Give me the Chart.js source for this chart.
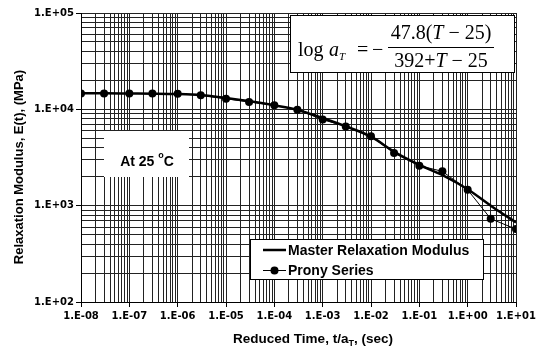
<!DOCTYPE html>
<html lang="en">
<head>
    <meta charset="UTF-8">
    <title>Relaxation Modulus</title>
    <script src="https://cdn.jsdelivr.net/npm/chart.js"></script>
    <style>
        body { margin: 0; background: #fff; }
    </style>
</head>
<body>
    <canvas id="modulusChart" width="543" height="348"></canvas>
    <script>
        // master curve, read at half-decade steps (sec, MPa)
        const masterTime = [1e-8, 3.16e-8, 1e-7, 3.16e-7, 1e-6, 3.16e-6, 1e-5, 3.16e-5, 1e-4, 3.16e-4,
                            1e-3, 3.16e-3, 1e-2, 3.16e-2, 1e-1, 3.16e-1, 1e0, 3.16e0, 1e1];
        const masterModulus = [14650, 14650, 14600, 14550, 14400, 14000, 13100, 12100, 11000, 9800,
                               8100, 6600, 5200, 3580, 2650, 2050, 1480, 980, 670];

        // prony series fit points
        const pronyTime = [1e-8, 3e-8, 1e-7, 3e-7, 1e-6, 3e-6, 1e-5, 3e-5, 1e-4, 3e-4,
                           1e-3, 3e-3, 1e-2, 3e-2, 1e-1, 3e-1, 1e0, 3e0, 1e1];
        const pronyModulus = [14600, 14600, 14600, 14600, 14500, 13970, 12900, 11940, 11020, 9930,
                              7820, 6650, 5240, 3520, 2600, 2270, 1460, 731, 571];

        const xDecades = [-8, -7, -6, -5, -4, -3, -2, -1, 0, 1];
        const yDecades = [2, 3, 4, 5];

        const FONT = '"Liberation Sans", Arial, sans-serif';
        const SERIF = '"Liberation Serif", "Times New Roman", serif';

        function toPoints(xs, ys) {
            return xs.map((x, i) => ({ x: x, y: ys[i] }));
        }

        // 1.E-08 style labels
        function expLabel(v) {
            const e = Math.round(Math.log10(v));
            const s = e < 0 ? '-' : '+';
            return '1.E' + s + String(Math.abs(e)).padStart(2, '0');
        }

        // full 1..9 log grid, majors at the decades
        function logTicks(decades) {
            const out = [];
            for (let i = 0; i < decades.length; i++) {
                const e = decades[i];
                out.push({ value: Math.pow(10, e), major: true });
                if (i < decades.length - 1) {
                    for (let m = 2; m <= 9; m++) out.push({ value: m * Math.pow(10, e), major: false });
                }
            }
            return out;
        }

        // draws [text, font, dy] pieces centred on cx
        function drawRuns(ctx, runs, cx, y) {
            let total = 0;
            runs.forEach(r => { ctx.font = r[1]; total += ctx.measureText(r[0]).width; });
            let x = cx - total / 2;
            ctx.textAlign = 'left';
            runs.forEach(r => {
                ctx.font = r[1];
                ctx.fillText(r[0], x, y + (r[2] || 0));
                x += ctx.measureText(r[0]).width;
            });
        }

        const annotations = {
            id: 'annotations',
            afterDatasetsDraw(chart) {
                const ctx = chart.ctx;
                ctx.save();

                // temperature box
                ctx.fillStyle = '#fff';
                ctx.fillRect(104, 131, 85, 46);
                ctx.fillStyle = '#000';
                ctx.textBaseline = 'alphabetic';
                const b14 = 'bold 14px ' + FONT;
                drawRuns(ctx, [['At 25 ', b14], ['o', 'bold 9px ' + FONT, -8], ['C', b14]], 147, 166);

                // shift factor equation
                ctx.fillStyle = '#fff';
                ctx.fillRect(290, 15, 224, 57);
                ctx.strokeStyle = '#000';
                ctx.lineWidth = 1;
                ctx.strokeRect(290.5, 15.5, 224, 57);
                ctx.fillStyle = '#000';
                const r20 = '20px ' + SERIF;
                const i20 = 'italic 20px ' + SERIF;
                ctx.textAlign = 'left';
                ctx.font = r20;
                ctx.fillText('log', 298, 56);
                ctx.font = i20;
                ctx.fillText('a', 329, 56);
                ctx.font = 'italic 11px ' + SERIF;
                ctx.fillText('T', 339, 60);
                ctx.font = r20;
                ctx.fillText('=', 357, 56);
                ctx.fillText('\u2212', 372, 56);
                ctx.beginPath();
                ctx.moveTo(388, 47.5);
                ctx.lineTo(494, 47.5);
                ctx.stroke();
                drawRuns(ctx, [['47.8(', r20], ['T', i20], [' \u2212 25)', r20]], 441, 39);
                drawRuns(ctx, [['392+', r20], ['T', i20], [' \u2212 25', r20]], 441, 67);

                // legend
                const lx = 250, ly = 239;
                ctx.fillStyle = '#fff';
                ctx.fillRect(lx, ly, 233, 40);
                ctx.strokeRect(lx + 0.5, ly + 0.5, 233, 40);
                ctx.textAlign = 'left';
                ctx.textBaseline = 'middle';
                ctx.font = b14;
                ctx.fillStyle = '#000';
                const ds = chart.data.datasets;
                ctx.lineWidth = ds[0].borderWidth;
                ctx.beginPath();
                ctx.moveTo(lx + 13, ly + 11);
                ctx.lineTo(lx + 36, ly + 11);
                ctx.stroke();
                ctx.fillText(ds[0].label, lx + 38, ly + 12);
                ctx.lineWidth = ds[1].borderWidth;
                ctx.beginPath();
                ctx.moveTo(lx + 13, ly + 31.5);
                ctx.lineTo(lx + 36, ly + 31.5);
                ctx.stroke();
                ctx.beginPath();
                ctx.arc(lx + 24.5, ly + 31.5, ds[1].pointRadius, 0, Math.PI * 2);
                ctx.fill();
                ctx.fillText(ds[1].label, lx + 38, ly + 32);

                // axis titles
                ctx.font = 'bold 13px ' + FONT;
                ctx.textAlign = 'center';
                ctx.save();
                ctx.translate(19, 167);
                ctx.rotate(-Math.PI / 2);
                ctx.fillText('Relaxation Modulus, E(t), (MPa)', 0, 0);
                ctx.restore();

                ctx.textBaseline = 'alphabetic';
                const b13 = 'bold 13.5px ' + FONT;
                drawRuns(ctx, [['Reduced Time, t/a', b13], ['T', 'bold 9px ' + FONT, 3], [', (sec)', b13]], 313, 343);

                ctx.restore();
            }
        };

        const gridLine = {
            color: '#222',
            lineWidth: 1,
            tickLength: 5,
            tickColor: c => (c.tick && c.tick.major ? '#000' : 'rgba(0,0,0,0)')
        };

        const tickFont = { family: '"DejaVu Sans"', size: 10, weight: 'bold' };

        const ctx = document.getElementById('modulusChart').getContext('2d');
        new Chart(ctx, {
            type: 'line',
            data: {
                datasets: [{
                    label: 'Master Relaxation Modulus',
                    data: toPoints(masterTime, masterModulus),
                    borderColor: '#000',
                    borderWidth: 2.5,
                    pointRadius: 0,
                    cubicInterpolationMode: 'monotone'
                }, {
                    label: 'Prony Series',
                    data: toPoints(pronyTime, pronyModulus),
                    borderColor: '#000',
                    backgroundColor: '#000',
                    borderWidth: 1,
                    pointRadius: 4,
                    pointBorderWidth: 0
                }]
            },
            options: {
                responsive: false,
                animation: false,
                layout: { padding: { top: 13, right: 27, left: 0, bottom: 0 } },
                plugins: {
                    legend: { display: false },
                    tooltip: { enabled: false }
                },
                scales: {
                    x: {
                        type: 'logarithmic',
                        min: 1e-8,
                        max: 10,
                        afterBuildTicks: s => { s.ticks = logTicks(xDecades); },
                        afterFit: s => { s.height = 46; },
                        grid: gridLine,
                        border: { color: '#000' },
                        ticks: {
                            autoSkip: false,
                            maxRotation: 0,
                            padding: 3,
                            color: '#000',
                            font: tickFont,
                            callback: (v, i, ticks) => (ticks[i].major ? expLabel(v) : '')
                        }
                    },
                    y: {
                        type: 'logarithmic',
                        min: 100,
                        max: 100000,
                        afterBuildTicks: s => { s.ticks = logTicks(yDecades); },
                        afterFit: s => { s.width = 81; },
                        grid: gridLine,
                        border: { color: '#000' },
                        ticks: {
                            autoSkip: false,
                            padding: 2,
                            color: '#000',
                            font: tickFont,
                            callback: (v, i, ticks) => (ticks[i].major ? expLabel(v) : '')
                        }
                    }
                }
            },
            plugins: [annotations]
        });
    </script>
</body>
</html>
